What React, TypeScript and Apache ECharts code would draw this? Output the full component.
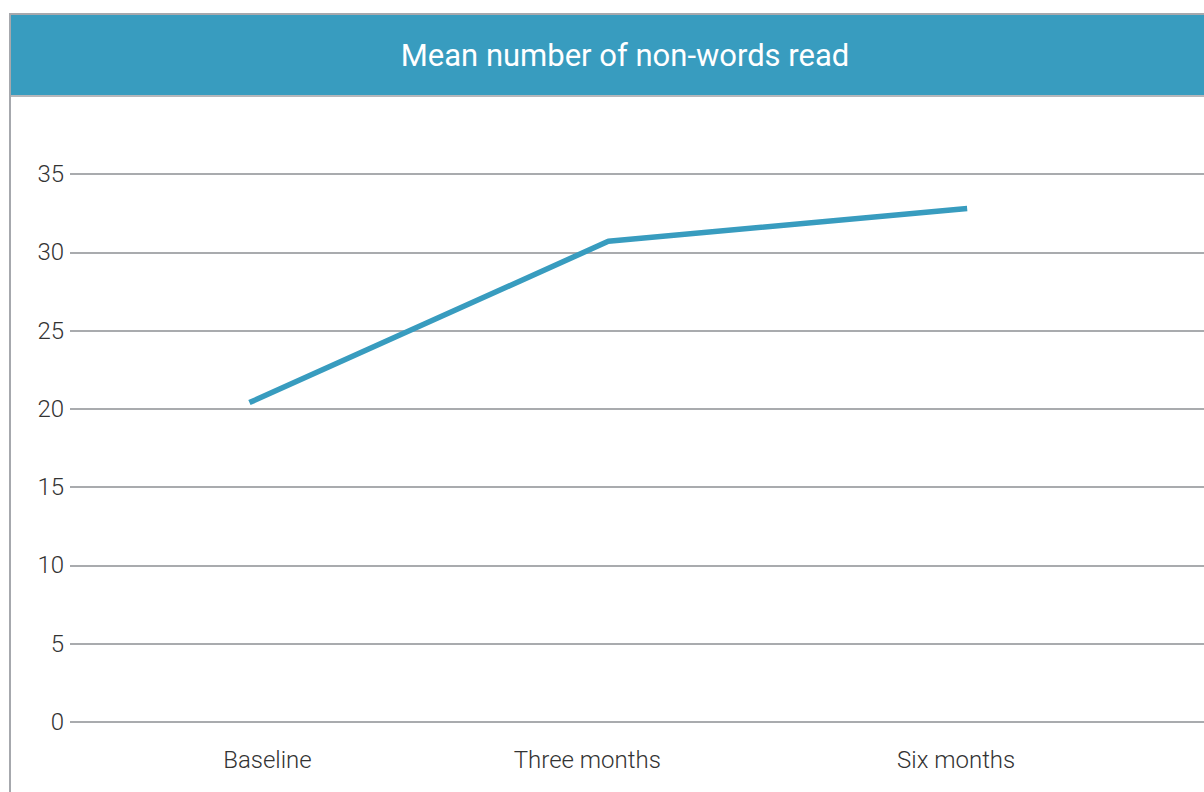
import React, { useEffect, useRef } from "react";
import * as echarts from "echarts";

const title = "Mean number of non-words read";
const categories = ["Baseline", "Three months", "Six months"];
const values = [20.4, 30.7, 32.8];
const yTicks = [0, 5, 10, 15, 20, 25, 30, 35];

export default function App() {
  const ref = useRef<HTMLDivElement>(null);
  useEffect(() => {
    if (!ref.current) return;
    const chart = echarts.init(ref.current, undefined, { renderer: "svg" });
    const font = "Roboto, 'DejaVu Sans', sans-serif";
    const labelStyle = { fontSize: 24, fontWeight: 300, color: "#333333", fontFamily: font };
    chart.setOption({
      animation: false,
      backgroundColor: "#ffffff",
      graphic: [
        { type: "rect", shape: { x: 11, y: 15, width: 1200, height: 80 }, style: { fill: "#389cbf" }, z: 0 },
        { type: "line", shape: { x1: 9, y1: 14, x2: 1210, y2: 14 }, style: { stroke: "#a6a8ad", lineWidth: 2 } },
        { type: "line", shape: { x1: 10, y1: 13, x2: 10, y2: 800 }, style: { stroke: "#a6a8ad", lineWidth: 2 } },
        { type: "line", shape: { x1: 11, y1: 96, x2: 1210, y2: 96 }, style: { stroke: "#b5b7bb", lineWidth: 2 } },
      ],
      title: {
        text: title,
        left: 620,
        top: 35,
        textAlign: "center",
        textStyle: { color: "#ffffff", fontSize: 31, fontWeight: 400, fontFamily: font },
      },
      grid: { left: 70, right: 0, top: 174, bottom: 70, containLabel: false },
      xAxis: {
        type: "value",
        min: -0.5,
        max: 2.66,
        interval: 0.5,
        axisLine: { show: false },
        axisTick: { show: false },
        splitLine: { show: false },
        axisLabel: {
          margin: 26,
          ...labelStyle,
          showMaxLabel: false,
          showMinLabel: false,
          formatter: (v: number) =>
            Number.isInteger(v) && v >= 0 && v < categories.length ? `{c${v}|${categories[v]}}` : "",
          rich: {
            c0: { ...labelStyle, padding: [0, 0, 0, 36] },
            c1: { ...labelStyle, padding: [0, 42, 0, 0] },
            c2: { ...labelStyle, padding: [0, 22, 0, 0] },
          },
        },
      },
      yAxis: {
        type: "value",
        min: yTicks[0],
        max: yTicks[yTicks.length - 1],
        interval: 5,
        axisLine: { show: false },
        axisTick: { show: false },
        splitLine: { lineStyle: { color: "#a9abae", width: 2 } },
        axisLabel: { margin: 6, ...labelStyle },
      },
      series: [
        {
          type: "line",
          data: values.map((v, i) => [i, v]),
          symbol: "none",
          lineStyle: { color: "#389cbf", width: 5.5, cap: "butt" },
        },
      ],
    });
    return () => chart.dispose();
  }, []);
  return (
    <div
      ref={ref}
      style={{ position: "absolute", left: 0, top: 0, width: 1204, height: 792 }}
    />
  );
}
